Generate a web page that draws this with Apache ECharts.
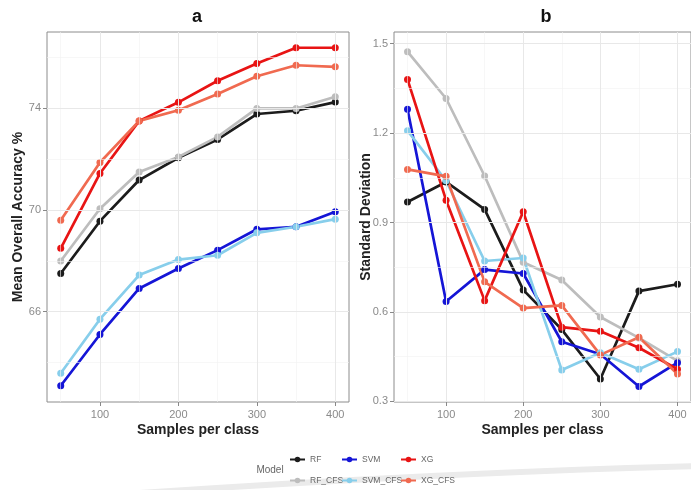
<!DOCTYPE html>
<html>
<head>
<meta charset="utf-8">
<script src="https://cdn.jsdelivr.net/npm/echarts@6/dist/echarts.min.js"></script>
<style>html,body{margin:0;padding:0;background:#fff}#c{width:691px;height:490px}</style>
</head>
<body>
<div id="c"></div>
<script>
var samples = [50, 100, 150, 200, 250, 300, 350, 400];
var models = ['RF', 'RF_CFS', 'SVM', 'SVM_CFS', 'XG', 'XG_CFS'];
var colors = ['#1c1c1c', '#bdbdbd', '#1515d6', '#87ceeb', '#e81414', '#f06a50'];

var accRF      = [67.50, 69.56, 71.18, 72.06, 72.78, 73.78, 73.91, 74.25];
var accRF_CFS  = [67.99, 70.05, 71.50, 72.09, 72.88, 74.00, 74.00, 74.46];
var accSVM     = [63.08, 65.10, 66.91, 67.70, 68.42, 69.24, 69.34, 69.93];
var accSVM_CFS = [63.57, 65.70, 67.44, 68.05, 68.22, 69.10, 69.34, 69.64];
var accXG      = [68.49, 71.44, 73.51, 74.24, 75.09, 75.77, 76.39, 76.39];
var accXG_CFS  = [69.60, 71.87, 73.51, 73.93, 74.57, 75.27, 75.70, 75.64];

var sdRF      = [0.969, 1.036, 0.944, 0.674, 0.541, 0.375, 0.670, 0.693];
var sdRF_CFS  = [1.473, 1.316, 1.056, 0.767, 0.707, 0.583, 0.513, 0.436];
var sdSVM     = [1.280, 0.635, 0.742, 0.729, 0.500, 0.458, 0.350, 0.430];
var sdSVM_CFS = [1.208, 1.040, 0.771, 0.781, 0.405, 0.463, 0.408, 0.467];
var sdXG      = [1.380, 0.975, 0.638, 0.936, 0.549, 0.535, 0.480, 0.408];
var sdXG_CFS  = [1.078, 1.055, 0.701, 0.613, 0.622, 0.456, 0.515, 0.392];

var xTicks = [100, 200, 300, 400];
var xMinor = [50, 150, 250, 350];
var accTicks = [66, 70, 74];
var accMinor = [64, 68, 72, 76];
var sdTicks = [0.3, 0.6, 0.9, 1.2, 1.5];
var sdMinor = [0.45, 0.75, 1.05, 1.35];

var accSets = [accRF, accRF_CFS, accSVM, accSVM_CFS, accXG, accXG_CFS];
var sdSets = [sdRF, sdRF_CFS, sdSVM, sdSVM_CFS, sdXG, sdXG_CFS];

var FONT = 'Liberation Sans, Arial, sans-serif';
var chart = echarts.init(document.getElementById('c'));

function pairs(vals) { return samples.map(function (s, i) { return [s, vals[i]]; }); }

function gridLines(idx, yMajor, yMinor, anchorY) {
  var d = [];
  var minorStyle = { color: '#f2f2f2', width: 0.6, type: 'solid' };
  var majorStyle = { color: '#e8e8e8', width: 1, type: 'solid' };
  xMinor.forEach(function (v) { d.push({ xAxis: v, lineStyle: minorStyle }); });
  yMinor.forEach(function (v) { d.push({ yAxis: v, lineStyle: minorStyle }); });
  xTicks.forEach(function (v) { d.push({ xAxis: v, lineStyle: majorStyle }); });
  yMajor.forEach(function (v) { d.push({ yAxis: v, lineStyle: majorStyle }); });
  return {
    type: 'line', xAxisIndex: idx, yAxisIndex: idx, z: 1, silent: true,
    data: [[samples[0], anchorY]], showSymbol: false, symbol: 'none',
    lineStyle: { opacity: 0 },
    markLine: { silent: true, symbol: ['none', 'none'], label: { show: false }, animation: false,
      lineStyle: { type: 'solid' }, emphasis: { disabled: true }, data: d }
  };
}

var series = [gridLines(0, accTicks, accMinor, accRF[0]), gridLines(1, sdTicks, sdMinor, sdRF[0])];
models.forEach(function (m, i) {
  [0, 1].forEach(function (g) {
    series.push({
      name: m, type: 'line', xAxisIndex: g, yAxisIndex: g, z: 3,
      data: pairs(g === 0 ? accSets[i] : sdSets[i]),
      symbol: 'circle', symbolSize: 7, showSymbol: true,
      itemStyle: { color: colors[i], borderWidth: 0 },
      lineStyle: { color: colors[i], width: 2.7 },
      emphasis: { disabled: true }, animation: false
    });
  });
});

function xAxis(g) {
  return {
    type: 'value', gridIndex: g, min: 32.5, max: 417.5,
    name: 'Samples per class', nameLocation: 'middle', nameGap: 21, nameMoveOverlap: false,
    nameTextStyle: { fontFamily: FONT, fontWeight: 'bold', fontSize: 14, color: '#222' },
    axisLine: { show: false },
    axisTick: { show: true, length: 4, customValues: xTicks, lineStyle: { color: '#888' } },
    axisLabel: { customValues: xTicks, margin: 7, fontFamily: FONT, fontSize: 11, color: '#8a8a8a' },
    splitLine: { show: false }
  };
}
function yAxis(g, min, max, ticks, name, gap, fmt) {
  return {
    type: 'value', gridIndex: g, min: min, max: max,
    name: name, nameLocation: 'middle', nameGap: gap, nameMoveOverlap: false,
    nameTextStyle: { fontFamily: FONT, fontWeight: 'bold', fontSize: 14, color: '#222' },
    axisLine: { show: false },
    axisTick: { show: true, length: 4, customValues: ticks, lineStyle: { color: '#888' } },
    axisLabel: { customValues: ticks, margin: 6, fontFamily: FONT, fontSize: 11, color: '#8a8a8a', formatter: fmt },
    splitLine: { show: false }
  };
}

var legends = [];
var legPos = [[289, 455], [289, 476], [341, 455], [341, 476], [400, 455], [400, 476]];
models.forEach(function (m, i) {
  legends.push({
    data: [m], left: legPos[i][0], top: legPos[i][1], padding: 0, z: 5,
    itemWidth: 15, itemHeight: 7, selectedMode: false,
    textStyle: { fontFamily: FONT, fontSize: 8.5, color: '#666' }
  });
});

chart.setOption({
  animation: false,
  backgroundColor: '#fff',
  grid: [
    { left: 47, top: 32, width: 302, height: 370, show: true, borderColor: '#8c8c8c', borderWidth: 1, backgroundColor: '#fff' },
    { left: 394, top: 32, width: 302, height: 370, show: true, borderColor: '#8c8c8c', borderWidth: 1, backgroundColor: '#fff' }
  ],
  xAxis: [xAxis(0), xAxis(1)],
  yAxis: [
    yAxis(0, 62.44, 77.01, accTicks, 'Mean Overall Accuracy %', 22, function (v) { return String(v); }),
    yAxis(1, 0.298, 1.539, sdTicks, 'Standard Deviation', 21, function (v) { return v.toFixed(1); })
  ],
  legend: legends,
  graphic: [
    { type: 'bezierCurve', z: -1, silent: true,
      shape: { x1: 125, y1: 494, cpx1: 300, cpy1: 482, cpx2: 500, cpy2: 471, x2: 700, y2: 466 },
      style: { stroke: '#ebebeb', lineWidth: 6, fill: null } },
    { type: 'text', x: 197, y: 17, style: { text: 'a', fontFamily: FONT, fontWeight: 'bold', fontSize: 18, fill: '#111', align: 'center', verticalAlign: 'middle' } },
    { type: 'text', x: 546, y: 17, style: { text: 'b', fontFamily: FONT, fontWeight: 'bold', fontSize: 18, fill: '#111', align: 'center', verticalAlign: 'middle' } },
    { type: 'text', x: 270, y: 470, style: { text: 'Model', fontFamily: FONT, fontSize: 10, fill: '#666', align: 'center', verticalAlign: 'middle' } }
  ],
  series: series
});
</script>
</body>
</html>
